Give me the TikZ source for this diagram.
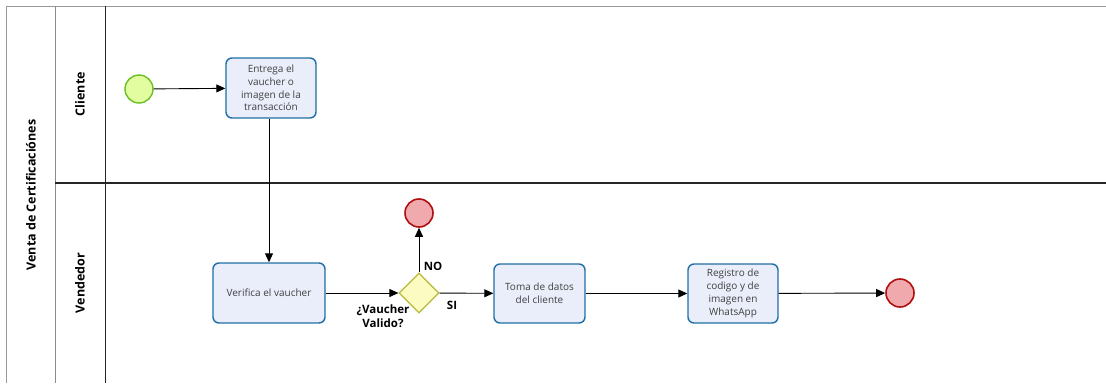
\documentclass[tikz,border=0pt]{standalone}
\usepackage{fontspec}
\setmainfont{Open Sans}
\usetikzlibrary{arrows.meta,shapes.geometric}
\definecolor{taskfill}{HTML}{EAEEFB}
\definecolor{taskline}{HTML}{1F6FA6}
\definecolor{startfill}{HTML}{E2FCA0}
\definecolor{startline}{HTML}{6CBF24}
\definecolor{endfill}{HTML}{F0A9AD}
\definecolor{endline}{HTML}{B01010}
\definecolor{gatefill}{HTML}{FCFCC2}
\definecolor{gateline}{HTML}{B8B83C}
\definecolor{textgray}{HTML}{404040}
\tikzset{
  task/.style={draw=taskline, fill=taskfill, line width=1.4pt, rounded corners=6pt,
    minimum width=#1, align=center, font=\fontsize{10}{12.8}\selectfont, text=textgray, inner sep=2pt},
  task/.default=90pt,
  startev/.style={circle, draw=startline, fill=startfill, line width=1.4pt, minimum size=28pt, inner sep=0pt},
  endev/.style={circle, draw=endline, fill=endfill, line width=1.6pt, minimum size=28pt, inner sep=0pt},
  gate/.style={diamond, draw=gateline, fill=gatefill, line width=1.2pt, minimum width=40pt, minimum height=40pt, inner sep=0pt},
  flow/.style={draw=black, line width=0.9pt, -{Triangle[length=9pt,width=8pt]}},
  lbl/.style={font=\fontsize{11.5}{13.5}\selectfont\bfseries, align=center},
  lanetitle/.style={font=\fontsize{12.5}{14}\selectfont\bfseries, rotate=90},
}
\begin{document}
\begin{tikzpicture}[x=1pt,y=-1pt]
\useasboundingbox (0,0) rectangle (1106,383);
\fill[white] (0,0) rectangle (1106,383);
% pool and lanes
\draw[gray!80, line width=1pt] (1106,6) -- (6,6) -- (6,383);
\draw[gray!90, line width=1pt] (55,6) -- (55,383);
\draw[black!85, line width=1pt] (105,6) -- (105,383);
\draw[black!85, line width=1.2pt] (55,183) -- (1106,183);
\node[lanetitle] (pool) at (31,195) {Venta de Certificaciónes};
\node[lanetitle] (lcli) at (80,94) {Cliente};
\node[lanetitle] (lven) at (80,283) {Vendedor};
% events, tasks and gateway
\node[startev] (start) at (139,89) {};
\node[task, minimum height=60pt] (t1) at (271,88) {Entrega el\\vaucher o\\imagen de la\\transacción};
\node[task=112pt, minimum height=60pt] (t2) at (269,293) {Verifica el vaucher};
\node[gate] (g) at (419,293) {};
\node[endev] (e1) at (419,213) {};
\node[task=91pt, minimum height=59pt] (t3) at (539.5,293.5) {Toma de datos\\del cliente};
\node[task=90pt, minimum height=59pt] (t4) at (733,293.5) {Registro de\\codigo y de\\imagen en\\WhatsApp};
\node[endev] (e2) at (900,293) {};
% sequence flows
\draw[flow] (start) -- (t1);
\draw[flow] (t1.south -| 269,0) -- (t2.north -| 269,0);
\draw[flow] (t2) -- (g);
\draw[flow] (g) -- (e1);
\draw[flow] (g) -- (t3);
\draw[flow] (t3) -- (t4);
\draw[flow] (t4) -- (e2);
% gateway labels
\node[lbl] (qv) at (383,316) {¿Vaucher\\Valido?};
\node[lbl] (no) at (433,266) {NO};
\node[lbl] (si) at (452,305) {SI};
\end{tikzpicture}
\end{document}
